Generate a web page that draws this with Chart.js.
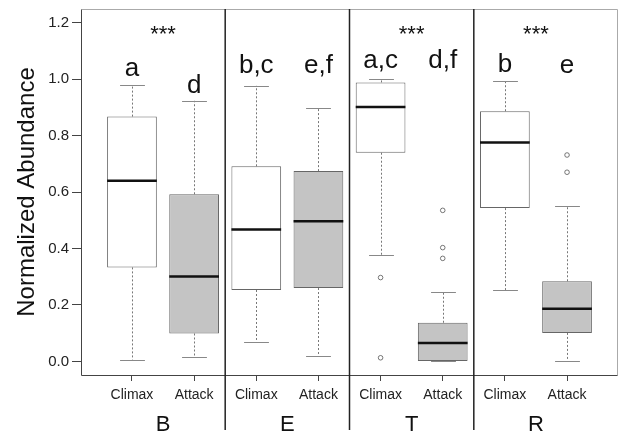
<!DOCTYPE html>
<html>
<head>
<meta charset="utf-8">
<script src="https://cdn.jsdelivr.net/npm/chart.js@4"></script>
<style>
  html, body { margin: 0; padding: 0; background: #fff; }
  #chart { display: block; }
</style>
</head>
<body>
<canvas id="chart" width="619" height="433"></canvas>
<script>
// groups and the two conditions inside each
const groups = ['B', 'E', 'T', 'R'];
const subLabels = ['Climax', 'Attack', 'Climax', 'Attack', 'Climax', 'Attack', 'Climax', 'Attack'];
const positions = [1, 2, 3, 4, 5, 6, 7, 8];

// box statistics
const whiskerLow  = [0.006, 0.017, 0.069, 0.018, 0.377, 0.000, 0.253, 0.002];
const q1          = [0.333, 0.099, 0.253, 0.260, 0.739, 0.002, 0.543, 0.101];
const medians     = [0.640, 0.301, 0.467, 0.496, 0.901, 0.065, 0.775, 0.187];
const q3          = [0.867, 0.592, 0.691, 0.674, 0.988, 0.137, 0.886, 0.284];
const whiskerHigh = [0.980, 0.923, 0.976, 0.896, 0.999, 0.246, 0.992, 0.551];
const outliers    = [[], [], [], [], [0.297, 0.013], [0.535, 0.403, 0.365], [], [0.731, 0.670]];

// significance letters + stars
const letters = ['a', 'd', 'b,c', 'e,f', 'a,c', 'd,f', 'b', 'e'];
const letterY = [1.01, 0.95, 1.02, 1.02, 1.04, 1.04, 1.025, 1.02];
const starGroups = ['B', 'T', 'R'];
const starY = 1.18;

const yTicks = [0, 0.2, 0.4, 0.6, 0.8, 1.0, 1.2];

const FONT = '"Liberation Sans", Arial, Helvetica, sans-serif';

const boxExtras = {
    id: 'boxExtras',
    beforeDatasetsDraw(chart) {
        const { ctx, scales: { x, y } } = chart;
        const halfCap = (x.getPixelForValue(1.2) - x.getPixelForValue(1));
        ctx.save();
        positions.forEach((p, i) => {
            const cx = Math.round(x.getPixelForValue(p)) + 0.5;
            // dashed whiskers
            ctx.strokeStyle = '#777';
            ctx.lineWidth = 1;
            ctx.setLineDash([2, 2]);
            ctx.beginPath();
            ctx.moveTo(cx, y.getPixelForValue(q3[i]));
            ctx.lineTo(cx, y.getPixelForValue(whiskerHigh[i]));
            ctx.moveTo(cx, y.getPixelForValue(q1[i]));
            ctx.lineTo(cx, y.getPixelForValue(whiskerLow[i]));
            ctx.stroke();
            // caps
            ctx.setLineDash([]);
            ctx.strokeStyle = '#888';
            ctx.beginPath();
            [whiskerHigh[i], whiskerLow[i]].forEach(v => {
                const py = Math.round(y.getPixelForValue(v)) + 0.5;
                ctx.moveTo(cx - halfCap, py);
                ctx.lineTo(cx + halfCap, py);
            });
            ctx.stroke();
        });
        ctx.restore();
    },
    afterDatasetsDraw(chart) {
        const { ctx, scales: { x, y }, chartArea } = chart;
        const halfBox = (x.getPixelForValue(1.4) - x.getPixelForValue(1));
        ctx.save();
        // medians
        ctx.strokeStyle = '#111';
        ctx.lineWidth = 2.5;
        positions.forEach((p, i) => {
            const cx = x.getPixelForValue(p);
            const py = y.getPixelForValue(medians[i]);
            ctx.beginPath();
            ctx.moveTo(cx - halfBox, py);
            ctx.lineTo(cx + halfBox, py);
            ctx.stroke();
        });

        // frame
        ctx.lineWidth = 1;
        const l = chartArea.left + 0.5, r = chartArea.right - 0.5;
        const t = chartArea.top + 0.5, b = chartArea.bottom + 0.5;
        ctx.strokeStyle = '#aaa';
        ctx.beginPath();
        ctx.moveTo(l, t); ctx.lineTo(r, t); ctx.lineTo(r, b);
        ctx.stroke();
        ctx.strokeStyle = '#444';
        ctx.beginPath();
        ctx.moveTo(l, t); ctx.lineTo(l, b); ctx.lineTo(r, b);
        ctx.stroke();

        // group separators
        ctx.strokeStyle = '#222';
        ctx.lineWidth = 1.5;
        [2.5, 4.5, 6.5].forEach(v => {
            const px = x.getPixelForValue(v);
            ctx.beginPath();
            ctx.moveTo(px, chartArea.top);
            ctx.lineTo(px, 430);
            ctx.stroke();
        });

        // letters
        ctx.fillStyle = '#111';
        ctx.textAlign = 'center';
        ctx.textBaseline = 'alphabetic';
        ctx.font = '26px ' + FONT;
        letters.forEach((txt, i) => {
            ctx.fillText(txt, x.getPixelForValue(positions[i]), y.getPixelForValue(letterY[i]));
        });

        // stars
        ctx.font = '22px ' + FONT;
        ctx.textBaseline = 'middle';
        starGroups.forEach(g => {
            const gi = groups.indexOf(g);
            ctx.fillText('***', x.getPixelForValue(gi * 2 + 1.5), y.getPixelForValue(starY) + 7);
        });

        // group names under the axis
        ctx.font = '22px ' + FONT;
        ctx.textBaseline = 'middle';
        groups.forEach((g, gi) => {
            ctx.fillText(g, x.getPixelForValue(gi * 2 + 1.5), 425);
        });
        ctx.restore();
    }
};

const outlierPoints = [];
outliers.forEach((list, i) => list.forEach(v => outlierPoints.push({ x: positions[i], y: v })));

new Chart(document.getElementById('chart'), {
    type: 'bar',
    data: {
        datasets: [{
            label: 'box',
            data: positions.map((p, i) => ({ x: p, y: [q1[i], q3[i]] })),
            backgroundColor: subLabels.map(s => s === 'Attack' ? '#c4c4c4' : '#ffffff'),
            borderColor: '#666',
            borderWidth: 1,
            borderSkipped: false,
            barPercentage: 0.8,
            categoryPercentage: 1.0
        }, {
            type: 'scatter',
            label: 'outliers',
            data: outlierPoints,
            pointStyle: 'circle',
            pointRadius: 2.3,
            pointBorderWidth: 0.8,
            pointBorderColor: '#555',
            pointBackgroundColor: '#fff'
        }]
    },
    options: {
        responsive: false,
        animation: false,
        devicePixelRatio: 1,
        layout: { autoPadding: false, padding: { top: 9, right: 1, left: 0, bottom: 0 } },
        plugins: { legend: { display: false }, tooltip: { enabled: false } },
        scales: {
            x: {
                type: 'linear',
                min: 0.18,
                max: 8.82,
                offset: false,
                afterBuildTicks: s => { s.ticks = positions.map(v => ({ value: v })); },
                afterFit: s => { s.height = 58; s.paddingLeft = 0; s.paddingRight = 0; },
                grid: { drawOnChartArea: false, offset: false, tickLength: 6, color: '#444' },
                border: { display: false },
                ticks: {
                    autoSkip: false,
                    maxRotation: 0,
                    padding: 6,
                    color: '#222',
                    font: { family: FONT, size: 14 },
                    callback: (v, idx) => subLabels[idx]
                }
            },
            y: {
                min: -0.048,
                max: 1.248,
                afterBuildTicks: s => { s.ticks = yTicks.map(v => ({ value: v })); },
                afterFit: s => { s.width = 81; s.paddingTop = 0; s.paddingBottom = 0; },
                grid: { drawOnChartArea: false, tickLength: 9, color: '#444' },
                border: { display: false },
                ticks: {
                    padding: 3,
                    color: '#222',
                    font: { family: FONT, size: 15 },
                    callback: v => v.toFixed(1)
                },
                title: {
                    display: true,
                    text: 'Normalized Abundance',
                    color: '#111',
                    font: { family: FONT, size: 24 },
                    padding: { top: 13, bottom: 0 }
                }
            }
        }
    },
    plugins: [boxExtras]
});
</script>
</body>
</html>
